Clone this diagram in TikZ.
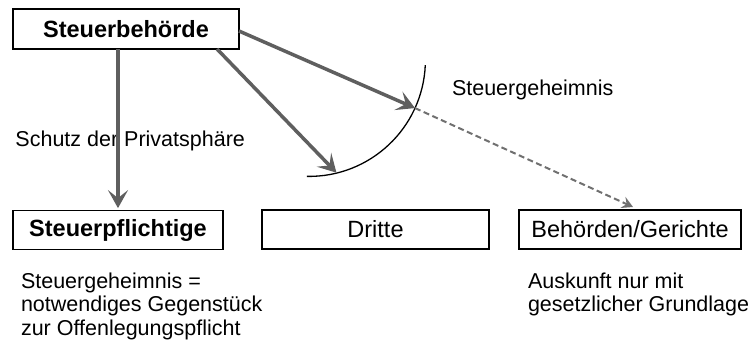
\documentclass[tikz,border=0pt]{standalone}
\usepackage{fontspec}
\setmainfont{Liberation Sans}
\usetikzlibrary{arrows.meta,calc}
\definecolor{arrgray}{RGB}{95,95,95}
\definecolor{dashgray}{RGB}{112,112,112}
\begin{document}
\begin{tikzpicture}[x=1pt,y=1pt,
  box/.style={draw=black,line width=1.2pt,inner sep=0pt,outer sep=0pt,
    font=\fontsize{23.5}{28}\selectfont,minimum height=39pt},
  lab/.style={inner sep=0pt,outer sep=0pt,font=\fontsize{21.5}{23.3}\selectfont,anchor=base west},
  note/.style={lab,align=left},
  thickarr/.style={draw=arrgray,line width=3.5pt,
    -{Stealth[length=18pt,width=20pt,inset=8pt]}},
  dasharr/.style={draw=dashgray,line width=2pt,dash pattern=on 6pt off 3.5pt,
    -{Stealth[length=11pt,width=12pt,inset=4pt]}},
  arcline/.style={draw=black,line width=1.3pt}]
\useasboundingbox (0,0) rectangle (751,-346);

% boxes
\node[box,minimum width=226pt,minimum height=40pt] (sb) at (126,-29) {\bfseries Steuerbehörde};
\node[box,minimum width=210pt] (sp) at (118,-230) {\bfseries Steuerpflichtige};
\node[box,minimum width=227pt] (dr) at (375.5,-229.5) {Dritte};
\node[box,minimum width=222pt] (bg) at (630,-229.5) {Behörden/Gerichte};

% labels
\node[lab] (schutz) at (15.5,-146.7) {Schutz der Privatsphäre};
\node[lab] (geh) at (452,-95.7) {Steuergeheimnis};
\node[note] (noteL) at (21,-335) {Steuergeheimnis =\\notwendiges Gegenstück\\zur Offenlegungspflicht};
\node[note] (noteR) at (528,-311.5) {Auskunft nur mit\\gesetzlicher Grundlage};

% arc (the "wall")
\coordinate (ctr) at (309,-60);
\coordinate (hit1) at ($(ctr)+(-24.4:116.4)$);
\coordinate (hit2) at ($(ctr)+(-76.3:116)$);
\draw[arcline] ([shift={(-2.5:116.4)}]ctr) arc[start angle=-2.5,end angle=-91,radius=116.4];

% connectors
\draw[thickarr] (sp.north |- sb.south) -- ([yshift=2.4pt]sp.north);
\draw[thickarr] ([yshift=-2pt]sb.east) -- (hit1);
\draw[thickarr] ([xshift=91pt]sb.south) -- (hit2);
\draw[dasharr] (hit1) -- ([shift={(3pt,3pt)}]bg.north);
\end{tikzpicture}
\end{document}
